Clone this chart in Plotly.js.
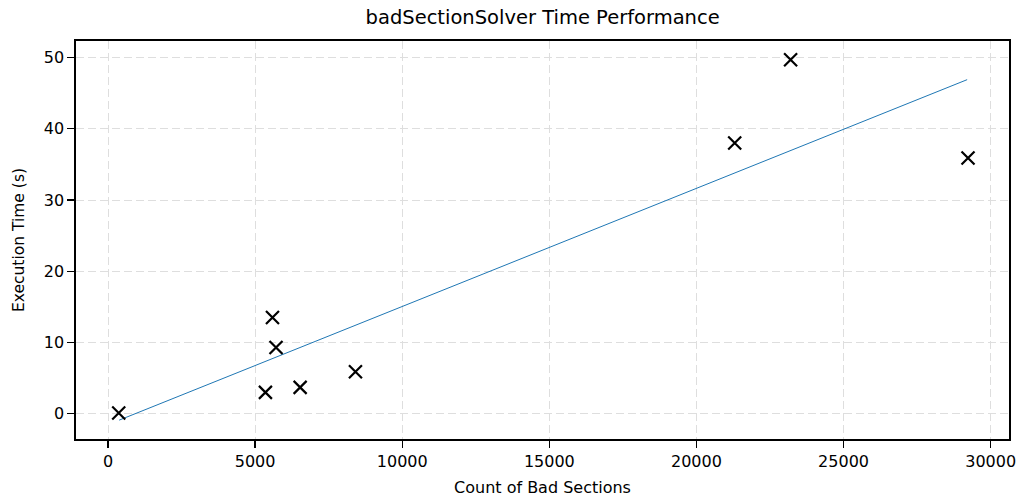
<!DOCTYPE html>
<html>
<head>
<meta charset="utf-8">
<script src="https://cdn.plot.ly/plotly-3.0.1.min.js"></script>
<style>html,body{margin:0;padding:0;background:#fff;}#chart{width:1020px;height:497px;}</style>
</head>
<body>
<div id="chart"></div>
<script>
const badSections = [364, 5350, 5590, 5710, 6530, 8410, 21300, 23200, 29230];
const execTimes = [0.1, 3.0, 13.5, 9.3, 3.7, 5.9, 38.0, 49.7, 35.9];
const fitX = [380, 29200];
const fitY = [-0.9, 46.9];
const xTicks = [0, 5000, 10000, 15000, 20000, 25000, 30000];
const yTicks = [0, 10, 20, 30, 40, 50];

const font = "DejaVu Sans, Verdana, sans-serif";
const traces = [
  {x: fitX, y: fitY, mode: 'lines', type: 'scatter', line: {color: '#1f77b4', width: 1}, hoverinfo: 'skip'},
  {x: badSections, y: execTimes, mode: 'markers', type: 'scatter',
   marker: {symbol: 'x-thin-open', size: 13, color: '#000', line: {color: '#000', width: 2.2}}}
];
const axisCommon = {
  showline: true, linecolor: '#000', linewidth: 1.6, mirror: true,
  ticks: 'outside', ticklen: 7, tickwidth: 1.3, tickcolor: '#000',
  showgrid: true, gridcolor: '#dedede', griddash: '8px,4px', gridwidth: 1,
  zeroline: false, tickfont: {family: font, size: 16, color: '#000'}
};
const layout = {
  width: 1020, height: 497,
  margin: {l: 76, r: 11, t: 41, b: 58},
  paper_bgcolor: '#fff', plot_bgcolor: '#fff',
  showlegend: false,
  title: {text: 'badSectionSolver Time Performance', x: 0.532, xanchor: 'center', y: 0.965, yanchor: 'middle',
          font: {family: font, size: 19.5, color: '#000'}},
  xaxis: Object.assign({}, axisCommon, {
    range: [-1088, 30623], tickvals: xTicks, ticktext: xTicks.map(String),
    title: {text: 'Count of Bad Sections', font: {family: font, size: 16, color: '#000'}, standoff: 12}
  }),
  yaxis: Object.assign({}, axisCommon, {
    range: [-3.55, 52.33], tickvals: yTicks, ticktext: yTicks.map(String),
    title: {text: 'Execution Time (s)', font: {family: font, size: 15.5, color: '#000'}, standoff: 15}
  })
};
Plotly.newPlot('chart', traces, layout, {displayModeBar: false, staticPlot: true});
</script>
</body>
</html>
